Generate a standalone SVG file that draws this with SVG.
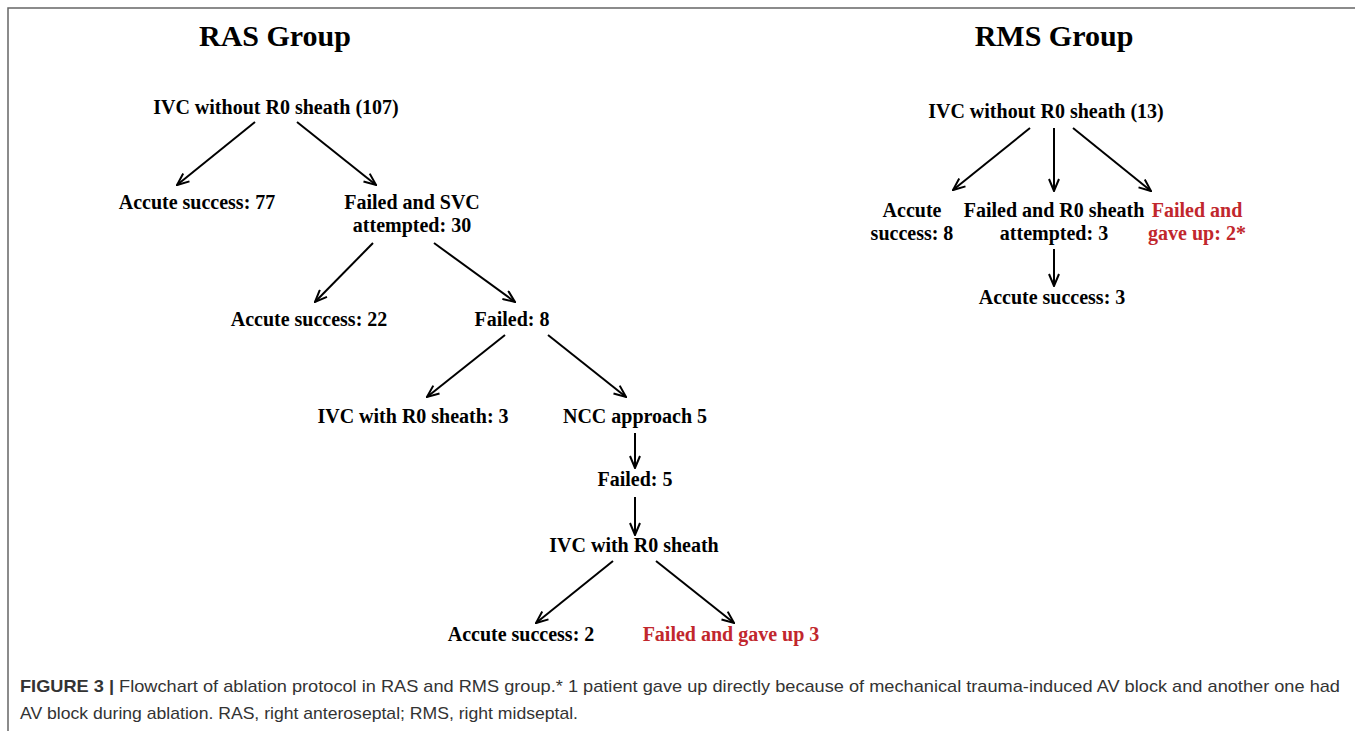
<svg xmlns="http://www.w3.org/2000/svg" width="1355" height="731" viewBox="0 0 1355 731">
<style>
.t{font-family:"Liberation Serif","Times New Roman",serif;font-weight:bold;font-size:20px;fill:#000;text-anchor:middle}
.h{font-size:30px}
.r{fill:#c1272d}
.c{font-family:"Liberation Sans",Arial,sans-serif;font-size:17px;fill:#333}
.a{stroke:#000;stroke-width:2;fill:none;marker-end:url(#ah)}
</style>
<defs>
<marker id="ah" viewBox="0 0 14 12" refX="13" refY="6" markerWidth="14" markerHeight="12" markerUnits="userSpaceOnUse" orient="auto">
<path d="M1,1 L13,6 L1,11" fill="none" stroke="#000" stroke-width="2"/>
</marker>
</defs>
<rect width="1355" height="731" fill="#fff"/>
<path d="M8,731 V8 H1355" fill="none" stroke="#666" stroke-width="1.5"/>
<g id="ras-title"><text class="t h" x="275" y="46">RAS Group</text></g>
<g id="rms-title"><text class="t h" x="1054" y="46">RMS Group</text></g>
<g id="n1"><text class="t" x="276" y="114">IVC without R0 sheath (107)</text></g>
<g id="n2"><text class="t" x="197" y="209">Accute success: 77</text></g>
<g id="n3"><text class="t" x="412" y="209">Failed and SVC</text><text class="t" x="412" y="232">attempted: 30</text></g>
<g id="n4"><text class="t" x="309" y="326">Accute success: 22</text></g>
<g id="n5"><text class="t" x="512" y="326">Failed: 8</text></g>
<g id="n6"><text class="t" x="413" y="423">IVC with R0 sheath: 3</text></g>
<g id="n7"><text class="t" x="635" y="423">NCC approach 5</text></g>
<g id="n8"><text class="t" x="635" y="486">Failed: 5</text></g>
<g id="n9"><text class="t" x="634" y="552">IVC with R0 sheath</text></g>
<g id="n10"><text class="t" x="521" y="641">Accute success: 2</text></g>
<g id="n11"><text class="t r" x="731" y="641">Failed and gave up 3</text></g>
<g id="m1"><text class="t" x="1046" y="118">IVC without R0 sheath (13)</text></g>
<g id="m2"><text class="t" x="912" y="217">Accute</text><text class="t" x="912" y="240">success: 8</text></g>
<g id="m3"><text class="t" x="1054" y="217">Failed and R0 sheath</text><text class="t" x="1054" y="240">attempted: 3</text></g>
<g id="m4"><text class="t r" x="1197" y="217">Failed and</text><text class="t r" x="1197" y="240">gave up: 2*</text></g>
<g id="m5"><text class="t" x="1052" y="304">Accute success: 3</text></g>
<g id="connectors">
<path class="a" d="M255,122 L177,185"/>
<path class="a" d="M297,122 L376,185"/>
<path class="a" d="M373,243 L315,302"/>
<path class="a" d="M434,243 L515,302"/>
<path class="a" d="M505,335 L427,397"/>
<path class="a" d="M548,335 L626,397"/>
<path class="a" d="M635,433 L635,468"/>
<path class="a" d="M635,497 L635,535"/>
<path class="a" d="M613,561 L536,623"/>
<path class="a" d="M656,561 L734,623"/>
<path class="a" d="M1030,128 L953,190"/>
<path class="a" d="M1054,128 L1054,191"/>
<path class="a" d="M1073,128 L1151,191"/>
<path class="a" d="M1054,249 L1054,286"/>
</g>
<g id="caption">
<text class="c" x="20" y="692" textLength="1320" lengthAdjust="spacingAndGlyphs"><tspan font-weight="bold">FIGURE 3 |</tspan> Flowchart of ablation protocol in RAS and RMS group.* 1 patient gave up directly because of mechanical trauma-induced AV block and another one had</text>
<text class="c" x="20" y="719" textLength="558" lengthAdjust="spacingAndGlyphs">AV block during ablation. RAS, right anteroseptal; RMS, right midseptal.</text>
</g>
</svg>
